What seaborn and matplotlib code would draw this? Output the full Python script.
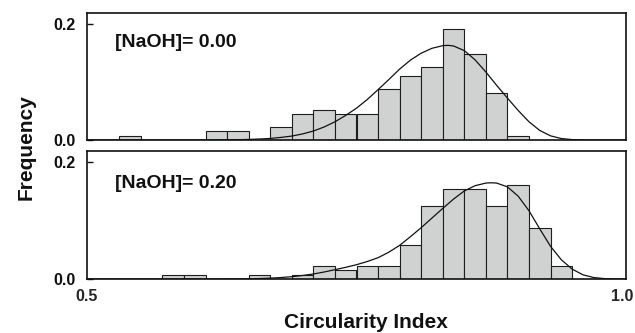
import numpy as np
import pandas as pd
import matplotlib
matplotlib.use("Agg")
import matplotlib.pyplot as plt
import matplotlib.transforms as mtransforms
import seaborn as sns

# ---- data ----
bin_width = 0.02
bin_edges = [0.51, 0.53, 0.55, 0.57, 0.59, 0.61, 0.63, 0.65, 0.67, 0.69, 0.71, 0.73,
             0.75, 0.77, 0.79, 0.81, 0.83, 0.85, 0.87, 0.89, 0.91, 0.93, 0.95]

# [NaOH] = 0.00
bin_start_top = [0.53, 0.61, 0.63, 0.67, 0.69, 0.71, 0.73, 0.75, 0.77, 0.79, 0.81,
                 0.83, 0.85, 0.87, 0.89]
freq_top = [0.0074, 0.0148, 0.0148, 0.0222, 0.0444, 0.0519, 0.0444, 0.0444, 0.0889,
            0.1111, 0.1259, 0.1926, 0.1481, 0.0815, 0.0074]

# [NaOH] = 0.20
bin_start_bot = [0.57, 0.59, 0.65, 0.69, 0.71, 0.73, 0.75, 0.77, 0.79, 0.81, 0.83,
                 0.85, 0.87, 0.89, 0.91, 0.93]
freq_bot = [0.0074, 0.0074, 0.0074, 0.0074, 0.0221, 0.0147, 0.0221, 0.0221, 0.0588,
            0.1250, 0.1544, 0.1544, 0.1250, 0.1618, 0.0882, 0.0221]

# fitted distribution curves (read point by point)
curve_x_top = [0.50, 0.60, 0.62, 0.64, 0.65, 0.66, 0.67, 0.68, 0.69, 0.70, 0.71, 0.72,
               0.73, 0.74, 0.75, 0.76, 0.77, 0.78, 0.79, 0.80, 0.81, 0.82, 0.83, 0.835,
               0.84, 0.85, 0.86, 0.87, 0.88, 0.89, 0.90, 0.91, 0.92, 0.93, 0.94, 0.95,
               0.96, 0.97, 1.00]
curve_y_top = [0.0, 0.0, 0.0002, 0.0006, 0.0010, 0.0017, 0.0027, 0.0045, 0.0068, 0.0105,
               0.0155, 0.0225, 0.0315, 0.0425, 0.0550, 0.0700, 0.0870, 0.1045, 0.1225,
               0.1380, 0.1500, 0.1585, 0.1630, 0.1636, 0.1625, 0.1545, 0.1385, 0.1175,
               0.0945, 0.0725, 0.0510, 0.0315, 0.0165, 0.0072, 0.0025, 0.0007, 0.0002,
               0.0, 0.0]

curve_x_bot = [0.50, 0.60, 0.63, 0.65, 0.66, 0.67, 0.68, 0.69, 0.70, 0.71, 0.72, 0.73,
               0.74, 0.75, 0.76, 0.77, 0.78, 0.79, 0.80, 0.81, 0.82, 0.83, 0.84, 0.85,
               0.86, 0.87, 0.875, 0.88, 0.89, 0.90, 0.91, 0.92, 0.93, 0.94, 0.95, 0.96,
               0.97, 0.98, 0.99, 1.00]
curve_y_bot = [0.0, 0.0, 0.0001, 0.0004, 0.0008, 0.0015, 0.0025, 0.0040, 0.0060, 0.0086,
               0.0120, 0.0160, 0.0200, 0.0245, 0.0300, 0.0365, 0.0460, 0.0577, 0.0725,
               0.0880, 0.1045, 0.1210, 0.1370, 0.1510, 0.1600, 0.1645, 0.1650, 0.1645,
               0.1580, 0.1420, 0.1170, 0.0860, 0.0560, 0.0330, 0.0170, 0.0072, 0.0025,
               0.0007, 0.0001, 0.0]

panel_labels = ["[NaOH]= 0.00", "[NaOH]= 0.20"]
ytick_vals = [0.0, 0.2]
ytick_labels = ["0.0", "0.2"]
xtick_vals = [0.5, 1.0]
xtick_labels = ["0.5", "1.0"]

# ---- styling ----
sns.set_theme(style="white")
plt.rcParams["font.family"] = ["Liberation Sans", "DejaVu Sans"]
plt.rcParams["font.weight"] = "bold"

W, H = 635, 333
fig = plt.figure(figsize=(W / 100, H / 100), dpi=100)
ax_top = fig.add_axes([87 / W, (H - 140) / H, 539 / W, 127.3 / H])
ax_bot = fig.add_axes([87 / W, (H - 279) / H, 539 / W, 128.3 / H])

bar_face = "#d0d2d2"
bar_edge = "#1e1e1e"

panels = [
    (ax_top, bin_start_top, freq_top, curve_x_top, curve_y_top, panel_labels[0], 0.764),
    (ax_bot, bin_start_bot, freq_bot, curve_x_bot, curve_y_bot, panel_labels[1], 0.748),
]

for ax, starts, freqs, cx, cy, label, ty in panels:
    df = pd.DataFrame({"x": np.array(starts) + bin_width / 2, "w": freqs})
    sns.histplot(data=df, x="x", weights="w", bins=bin_edges, stat="count",
                 color=bar_face, edgecolor=bar_edge, linewidth=0.8, alpha=1,
                 ax=ax)
    sns.lineplot(x=cx, y=cy, color="#111111", linewidth=0.9, estimator=None,
                 ax=ax)
    ax.set_xlim(0.5, 1.0)
    ax.set_ylim(0, 0.22)
    ax.set_xlabel("")
    ax.set_ylabel("")
    ax.set_yticks(ytick_vals)
    ax.set_yticklabels(ytick_labels, fontsize=11.5, fontweight="bold")
    ax.tick_params(axis="y", direction="in", length=4, width=1, pad=8,
                   left=True, colors="#111111")
    ax.tick_params(axis="x", length=0, pad=7)
    for s in ax.spines.values():
        s.set_linewidth(1.2)
        s.set_color("#111111")
        s.set_visible(True)
    ax.text(0.052, ty, label, transform=ax.transAxes, fontsize=14,
            fontweight="bold", ha="left", va="center", color="#111111")

ax_top.set_xticks([])
ax_bot.set_xticks(xtick_vals)
ax_bot.set_xticklabels(xtick_labels, fontsize=11.5, fontweight="bold")
# nudge the right-most tick label so it stays inside the canvas
last = ax_bot.get_xticklabels()[-1]
last.set_transform(last.get_transform() +
                   mtransforms.ScaledTranslation(-4 / 100, 0, fig.dpi_scale_trans))

fig.text(366 / W, 1 - 322 / H, "Circularity Index", fontsize=15,
         fontweight="bold", ha="center", va="center", color="#111111")
fig.text(26 / W, 1 - 147 / H, "Frequency", fontsize=15, fontweight="bold",
         rotation=90, ha="center", va="center", color="#111111")

fig.savefig("out.png", dpi=100)
